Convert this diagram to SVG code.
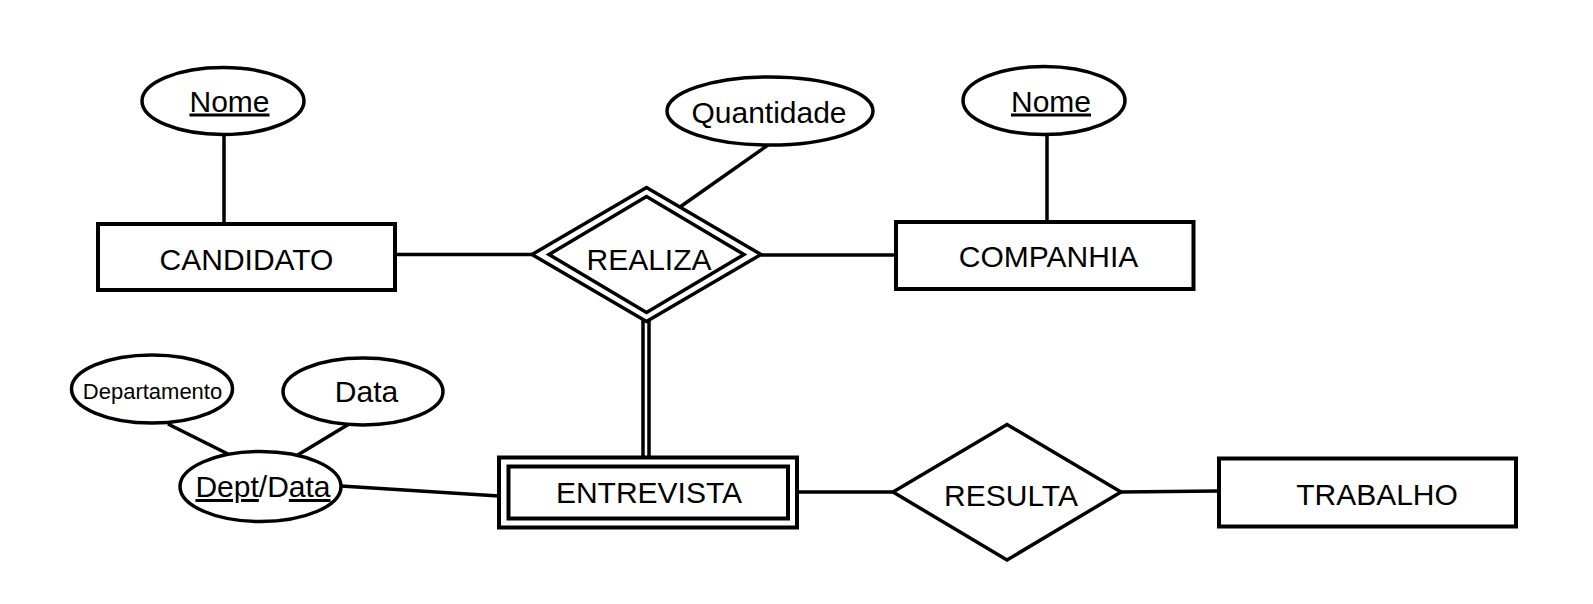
<svg xmlns="http://www.w3.org/2000/svg" width="1593" height="604" viewBox="0 0 1593 604">
<style>
.shape{fill:#fff;stroke:#000;stroke-width:3.5}
.box{fill:#fff;stroke:#000;stroke-width:4}
.conn line{stroke:#000;stroke-width:3.5}
text{font-family:"Liberation Sans",Arial,sans-serif;font-size:30px;fill:#000;text-anchor:middle}
.small{font-size:22px}
.u{text-decoration:underline}
</style>
<rect width="1593" height="604" fill="#fff"/>
<g id="connectors" class="conn">
<line x1="224" y1="134" x2="224" y2="224"/>
<line x1="395" y1="254.5" x2="532" y2="254.5"/>
<line x1="761" y1="255" x2="896" y2="255"/>
<line x1="768" y1="145" x2="680" y2="207"/>
<line x1="1047" y1="134" x2="1047" y2="222"/>
<line x1="643" y1="318" x2="643" y2="457"/>
<line x1="649" y1="318" x2="649" y2="457"/>
<line x1="168" y1="424" x2="230" y2="455"/>
<line x1="349" y1="424" x2="296" y2="456"/>
<line x1="341" y1="486" x2="499" y2="496"/>
<line x1="797" y1="492" x2="893" y2="492"/>
<line x1="1121" y1="492" x2="1219" y2="491"/>
</g>
<g id="nome-candidato">
<ellipse class="shape" cx="223" cy="101" rx="81" ry="33.5"/>
<text x="229.5" y="111.5" class="u">Nome</text>
</g>
<g id="candidato">
<rect class="box" x="98" y="224" width="297" height="66"/>
<text x="246.5" y="270">CANDIDATO</text>
</g>
<g id="quantidade">
<ellipse class="shape" cx="770" cy="111" rx="103" ry="34"/>
<text x="769" y="123">Quantidade</text>
</g>
<g id="realiza">
<polygon class="shape" points="532,254.5 646.5,187.5 761,254.5 646.5,321.5"/>
<polygon class="shape" points="549,254.5 646.5,196.5 744,254.5 646.5,312.5"/>
<text x="649" y="270">REALIZA</text>
</g>
<g id="nome-companhia">
<ellipse class="shape" cx="1044" cy="100.5" rx="81" ry="34"/>
<text x="1051" y="111.5" class="u">Nome</text>
</g>
<g id="companhia">
<rect class="box" x="896" y="222" width="297.5" height="67"/>
<text x="1048.5" y="266.5">COMPANHIA</text>
</g>
<g id="departamento">
<ellipse class="shape" cx="152" cy="389" rx="80.5" ry="34"/>
<text x="152.5" y="399" class="small">Departamento</text>
</g>
<g id="data">
<ellipse class="shape" cx="363" cy="391.5" rx="80" ry="33.5"/>
<text x="366.5" y="401.5">Data</text>
</g>
<g id="dept-data">
<ellipse class="shape" cx="260.5" cy="486.5" rx="80.5" ry="35"/>
<text x="263" y="497"><tspan class="u">Dept</tspan>/D<tspan class="u">ata</tspan></text>
</g>
<g id="entrevista">
<rect class="box" x="499" y="457.5" width="298" height="70"/>
<rect class="box" x="508.5" y="466.5" width="279.5" height="52"/>
<text x="649" y="503">ENTREVISTA</text>
</g>
<g id="resulta">
<polygon class="shape" points="893,492 1007,424.5 1121,492 1007,560"/>
<text x="1011" y="506">RESULTA</text>
</g>
<g id="trabalho">
<rect class="box" x="1219" y="458.5" width="297" height="68"/>
<text x="1377" y="505">TRABALHO</text>
</g>
</svg>
